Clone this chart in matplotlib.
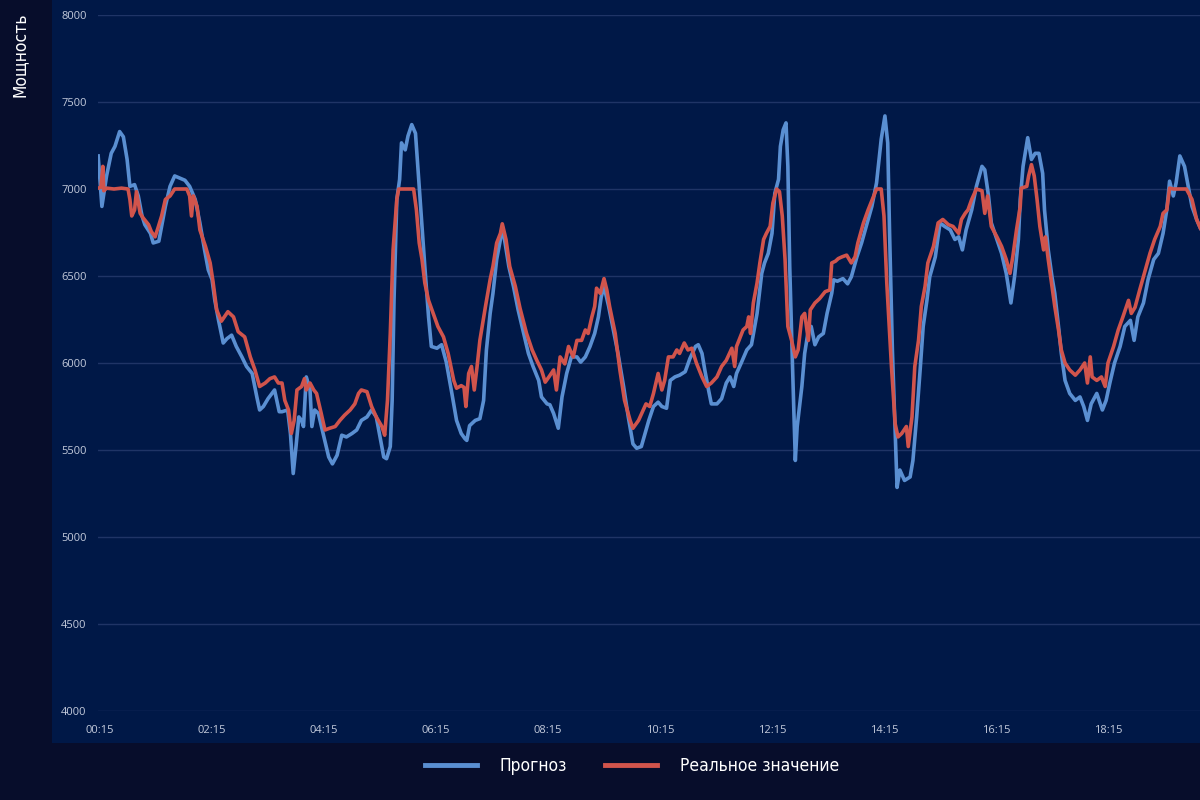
#!/usr/bin/python3

import numpy as np
from matplotlib import pyplot as plt
from matplotlib.patches import Rectangle

plt.rc('font', family=['Open Sans', 'DejaVu Sans'], size=8)
plt.rc('axes', linewidth=0)

px = 1 / 100.  # pixel in inches at dpi 100

BG_OUTER = '#070d2b'
BG_PANEL = '#001847'
GRID = '#1f3466'
TICK = '#c3cadb'
BLUE = '#5a8fd2'
RED = '#d1544c'
NARROW = ['DejaVu Sans']

# time axis: minutes since 00:00
tick_minutes = [15, 135, 255, 375, 495, 615, 735, 855, 975, 1095]
tick_labels = ["00:15", "02:15", "04:15", "06:15", "08:15", "10:15", "12:15", "14:15", "16:15", "18:15"]
y_ticks = [4000, 4500, 5000, 5500, 6000, 6500, 7000, 7500, 8000]

# forecast ("Прогноз")
forecast_t = [13, 17, 22, 27, 31, 36, 40, 44, 47, 52, 56, 60, 63, 69, 72, 78, 85, 90, 95, 106,
              111, 117, 122, 127, 131, 135, 138, 142, 147, 151, 156, 161, 167, 172, 178, 183, 186, 190, 195, 202,
              207, 210, 216, 219, 222, 225, 228, 231, 233, 236, 240, 242, 245, 249, 254, 260, 264, 269, 274, 279,
              285, 290, 295, 301, 306, 311, 315, 319, 322, 326, 328, 330, 333, 336, 338, 342, 345, 349, 353, 356,
              360, 363, 367, 370, 376, 381, 386, 392, 397, 402, 406, 408, 411, 417, 422, 426, 429, 433, 436, 440,
              444, 446, 449, 453, 458, 463, 469, 474, 479, 485, 488, 494, 497, 501, 506, 510, 515, 520, 526, 530,
              535, 540, 545, 549, 552, 555, 560, 565, 570, 576, 581, 586, 590, 595, 599, 603, 608, 613, 617, 622,
              626, 631, 636, 642, 647, 653, 656, 660, 663, 667, 670, 676, 681, 686, 690, 694, 697, 702, 708, 713,
              719, 724, 727, 731, 735, 738, 742, 744, 747, 750, 752, 754, 757, 760, 762, 767, 770, 774, 777, 781,
              785, 790, 794, 799, 801, 805, 811, 816, 820, 826, 831, 836, 842, 847, 852, 856, 859, 861, 864, 867,
              869, 872, 877, 883, 886, 890, 894, 897, 901, 904, 910, 915, 920, 926, 931, 935, 939, 943, 949, 954,
              960, 963, 967, 970, 976, 981, 986, 991, 995, 999, 1001, 1004, 1009, 1013, 1017, 1021, 1025, 1027, 1031, 1035,
              1038, 1042, 1045, 1049, 1054, 1060, 1065, 1069, 1073, 1077, 1083, 1089, 1093, 1097, 1102, 1108, 1113, 1119, 1123, 1127,
              1133, 1138, 1144, 1149, 1154, 1158, 1161, 1165, 1168, 1172, 1177, 1181, 1185, 1190, 1194]
forecast_v = [7190, 6900, 7075, 7205, 7245, 7330, 7300, 7170, 7015, 7025, 6960, 6845, 6795, 6745, 6690, 6700, 6900, 7015, 7075, 7050,
              7015, 6940, 6805, 6650, 6535, 6480, 6360, 6245, 6115, 6140, 6160, 6095, 6035, 5980, 5940, 5805, 5730, 5750, 5795, 5845,
              5720, 5720, 5730, 5595, 5365, 5520, 5690, 5670, 5635, 5920, 5845, 5635, 5730, 5710, 5595, 5460, 5420, 5470, 5585, 5575,
              5595, 5615, 5670, 5690, 5730, 5690, 5575, 5460, 5450, 5520, 5785, 6360, 6940, 7055, 7265, 7225, 7305, 7370, 7320, 7090,
              6785, 6555, 6265, 6095, 6085, 6105, 6005, 5825, 5670, 5595, 5565, 5555, 5640, 5670, 5680, 5785, 6075, 6285, 6400, 6595,
              6710, 6785, 6690, 6555, 6440, 6305, 6170, 6055, 5980, 5900, 5805, 5765, 5760, 5710, 5625, 5805, 5940, 6035, 6035, 6005,
              6035, 6095, 6170, 6265, 6380, 6440, 6325, 6190, 6055, 5865, 5690, 5535, 5510, 5520, 5595, 5670, 5750, 5775, 5750, 5740,
              5900, 5920, 5930, 5950, 6025, 6095, 6105, 6055, 5960, 5845, 5765, 5765, 5795, 5885, 5920, 5865, 5940, 6000, 6075, 6105,
              6285, 6515, 6575, 6630, 6745, 6975, 7055, 7245, 7340, 7380, 7130, 6555, 5980, 5440, 5635, 5865, 6055, 6190, 6210, 6105,
              6150, 6170, 6285, 6400, 6478, 6470, 6485, 6455, 6495, 6610, 6690, 6785, 6900, 7035, 7285, 7420, 7265, 6745, 6075, 5595,
              5285, 5385, 5325, 5345, 5440, 5690, 5980, 6210, 6360, 6495, 6610, 6805, 6785, 6765, 6710, 6725, 6650, 6765, 6880, 7015,
              7130, 7110, 6960, 6805, 6710, 6630, 6515, 6345, 6500, 6710, 6940, 7130, 7295, 7170, 7205, 7205, 7090, 6880, 6650, 6495,
              6400, 6210, 6055, 5900, 5825, 5785, 5805, 5750, 5670, 5765, 5825, 5730, 5785, 5885, 6000, 6095, 6210, 6245, 6130, 6265,
              6345, 6480, 6595, 6630, 6745, 6880, 7045, 6960, 7035, 7190, 7130, 7015, 6900, 6825, 6775]

# actual ("Реальное значение")
actual_t = [13, 16, 18, 19, 22, 30, 38, 45, 47, 49, 52, 54, 58, 61, 67, 70, 74, 77, 81, 85,
            90, 95, 108, 111, 113, 115, 119, 122, 128, 133, 136, 140, 145, 152, 158, 163, 170, 176, 181, 186,
            192, 197, 202, 206, 210, 213, 217, 220, 223, 226, 231, 234, 236, 240, 244, 247, 252, 256, 261, 267,
            272, 277, 283, 288, 292, 295, 301, 306, 311, 317, 320, 323, 326, 329, 333, 335, 351, 354, 357, 360,
            363, 367, 372, 377, 383, 388, 394, 397, 402, 405, 407, 410, 413, 416, 419, 422, 428, 433, 436, 440,
            444, 446, 450, 454, 460, 465, 472, 478, 483, 488, 492, 496, 501, 504, 508, 513, 517, 522, 526, 531,
            535, 538, 542, 545, 547, 551, 555, 558, 561, 567, 572, 577, 583, 586, 592, 597, 600, 604, 608, 613,
            617, 620, 624, 629, 633, 636, 641, 645, 649, 654, 660, 665, 670, 676, 681, 686, 692, 695, 697, 701,
            704, 708, 710, 712, 715, 719, 722, 726, 729, 733, 736, 740, 743, 746, 749, 752, 756, 760, 763, 767,
            770, 774, 776, 781, 786, 792, 797, 799, 803, 806, 810, 815, 820, 824, 827, 833, 838, 844, 847, 852,
            855, 858, 861, 863, 867, 870, 874, 879, 881, 885, 888, 892, 895, 899, 902, 908, 913, 918, 924, 929,
            935, 938, 942, 945, 949, 954, 960, 963, 966, 970, 976, 981, 986, 990, 993, 997, 1001, 1002, 1008, 1010,
            1013, 1016, 1019, 1022, 1026, 1028, 1031, 1035, 1038, 1042, 1045, 1049, 1054, 1060, 1065, 1070, 1073, 1076, 1078, 1083,
            1088, 1092, 1095, 1101, 1106, 1111, 1117, 1120, 1124, 1129, 1135, 1140, 1145, 1151, 1154, 1158, 1161, 1165, 1179, 1185,
            1190, 1194]
actual_v = [7005, 7010, 7130, 6990, 7005, 7000, 7005, 7000, 6940, 6845, 6880, 6985, 6860, 6835, 6795, 6755, 6725, 6775, 6845, 6940,
            6960, 7000, 7000, 6960, 6845, 6960, 6900, 6765, 6670, 6575, 6470, 6305, 6240, 6295, 6265, 6180, 6150, 6035, 5960, 5865,
            5885, 5910, 5920, 5885, 5885, 5785, 5730, 5595, 5670, 5845, 5865, 5910, 5845, 5885, 5845, 5825, 5710, 5615, 5625, 5635,
            5670, 5700, 5730, 5765, 5825, 5845, 5835, 5750, 5690, 5635, 5585, 5785, 6170, 6650, 6940, 7000, 7000, 6880, 6690, 6595,
            6460, 6360, 6285, 6210, 6150, 6055, 5900, 5855, 5870, 5860, 5750, 5940, 5980, 5845, 5980, 6130, 6325, 6480, 6555, 6690,
            6745, 6800, 6710, 6555, 6440, 6315, 6170, 6075, 6015, 5960, 5890, 5920, 5960, 5845, 6035, 5995, 6095, 6035, 6130, 6130,
            6190, 6170, 6265, 6325, 6430, 6400, 6485, 6420, 6325, 6170, 5960, 5785, 5670, 5625, 5670, 5730, 5765, 5750, 5825, 5940,
            5845, 5900, 6035, 6035, 6075, 6055, 6115, 6075, 6085, 6000, 5920, 5865, 5885, 5920, 5980, 6015, 6085, 5980, 6095, 6150,
            6190, 6210, 6265, 6170, 6345, 6460, 6575, 6710, 6745, 6785, 6920, 7000, 6985, 6845, 6595, 6210, 6130, 6035, 6075, 6265,
            6285, 6130, 6305, 6345, 6370, 6410, 6420, 6575, 6585, 6600, 6610, 6620, 6575, 6610, 6690, 6805, 6880, 6960, 7000, 7000,
            6845, 6460, 6170, 5980, 5650, 5575, 5595, 5635, 5520, 5690, 5980, 6130, 6325, 6440, 6575, 6670, 6805, 6825, 6795, 6785,
            6745, 6825, 6860, 6880, 6940, 7000, 6990, 6860, 6960, 6785, 6725, 6670, 6595, 6515, 6610, 6765, 6900, 7005, 7015, 7075,
            7140, 7075, 6940, 6785, 6650, 6725, 6595, 6440, 6325, 6190, 6075, 6000, 5960, 5930, 5960, 6000, 5885, 6035, 5920, 5900,
            5920, 5865, 6000, 6095, 6190, 6265, 6360, 6285, 6320, 6420, 6535, 6630, 6710, 6785, 6860, 6880, 7005, 7000, 7000, 6940,
            6825, 6775]


def draw():
    fig = plt.figure(figsize=(1200 * px, 800 * px), dpi=100, facecolor=BG_OUTER)

    # lighter panel behind the chart
    fig.patches.append(Rectangle((52 / 1200, 57 / 800), 1, 1, transform=fig.transFigure,
                                 facecolor=BG_PANEL, edgecolor='none', zorder=-1))

    ax = fig.add_axes([97.7 / 1200, 89 / 800, (1200 - 97.7) / 1200, 696 / 800])
    ax.set_zorder(1)
    ax.patch.set_alpha(0)

    ax.plot(forecast_t, forecast_v, color=BLUE, linewidth=2.6, label="Прогноз",
            solid_joinstyle='round', zorder=3)
    ax.plot(actual_t, actual_v, color=RED, linewidth=2.6, label="Реальное значение",
            solid_joinstyle='round', zorder=4)

    ax.set_xlim(12.5, 1193.6)
    ax.set_ylim(4000, 8000)
    ax.set_yticks(y_ticks)
    ax.set_xticks(tick_minutes)
    ax.set_xticklabels(tick_labels)
    ax.grid(axis='y', color=GRID, linewidth=1)
    ax.set_axisbelow(True)
    ax.tick_params(axis='both', length=0, colors=TICK, labelsize=8)
    ax.tick_params(axis='y', pad=8)
    ax.tick_params(axis='x', pad=10)
    for s in ax.spines.values():
        s.set_visible(False)

    # axis title in the dark strip on the left
    fig.text(20 / 1200, 1 - 55 / 800, "Мощность", rotation=90, color='white',
             ha='center', va='center', fontsize=12.5, family=NARROW, fontstretch='condensed')

    # legend is centred on the panel, not on the whole figure
    leg = fig.legend(loc='center', bbox_to_anchor=(632 / 1200, 1 - 766 / 800), ncol=2, frameon=False,
                     handlelength=3.0, handletextpad=1.3, columnspacing=2.2,
                     prop={'family': NARROW, 'size': 12.5, 'stretch': 'condensed'})
    for t in leg.get_texts():
        t.set_color('white')
    for l in leg.get_lines():
        l.set_linewidth(3.5)

    fig.savefig("out.png", dpi=100, facecolor=BG_OUTER)
    plt.close()


if __name__ == "__main__":
    draw()
